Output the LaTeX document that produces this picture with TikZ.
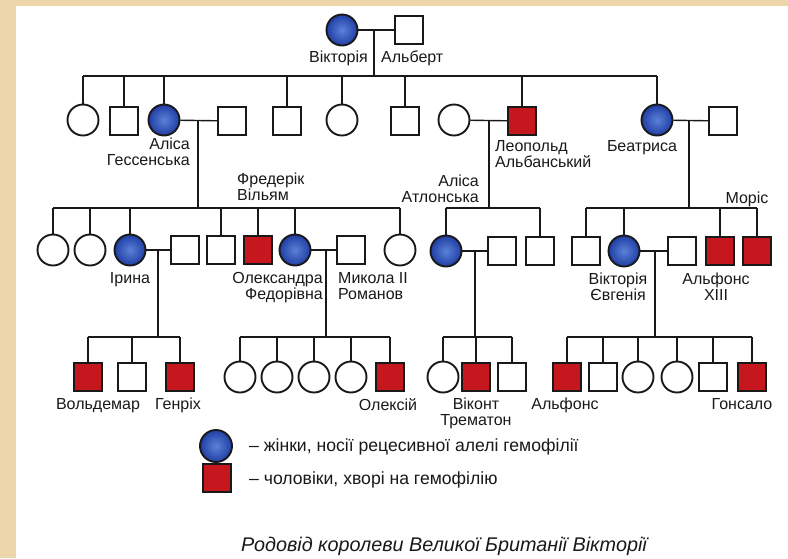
\documentclass[tikz,border=0pt]{standalone}
\usepackage{fontspec}
\setmainfont{Liberation Sans}
\definecolor{bgbeige}{RGB}{236,214,170}
\definecolor{carrierblue}{RGB}{32,62,165}
\definecolor{carrierlight}{RGB}{90,130,215}
\definecolor{sickred}{RGB}{198,22,30}
\definecolor{ink}{RGB}{25,25,25}
\begin{document}
\begin{tikzpicture}[x=1pt,y=-1pt,
  link/.style={draw=ink,line width=1.4pt},
  fem/.style={circle,draw=ink,line width=1.9pt,minimum size=31pt,inner sep=0pt,fill=white},
  mal/.style={rectangle,draw=ink,line width=1.9pt,minimum size=28pt,inner sep=0pt,fill=white},
  carrier/.style={fem,shading=radial,inner color=carrierlight,outer color=carrierblue},
  sick/.style={mal,fill=sickred},
  lbl/.style={font=\fontsize{16}{16}\selectfont,inner sep=0pt,text=ink},
  legtext/.style={font=\fontsize{17.6}{18}\selectfont,inner sep=0pt,text=ink,anchor=west}]
\useasboundingbox (0,0) rectangle (788,558);
\fill[bgbeige] (0,0) rectangle (788,558);
\fill[white] (16,6) rectangle (788,558);

% ---------- generation 1
\node[carrier] (vic) at (342,30) {};
\node[mal] (alb) at (409,30) {};
\node[lbl,anchor=north east] (lvic) at (368,51) {Вікторія};
\node[lbl,anchor=north west] (lalb) at (381,51) {Альберт};
\coordinate (m0) at (374,30);
\coordinate (sib2) at (0,76);
\draw[link] (vic) -- (alb);
\draw[link] (m0) -- (m0 |- sib2);

% ---------- generation 2
\node[fem] (c1) at (83,120) {};
\node[mal] (s1) at (124,121) {};
\node[carrier] (ali) at (164,120) {};
\node[mal] (alih) at (232,121) {};
\node[mal] (s2) at (287,121) {};
\node[fem] (c2) at (342,120) {};
\node[mal] (s3) at (405,121) {};
\node[fem] (leow) at (454,120) {};
\node[sick] (leo) at (522,121) {};
\node[carrier] (bea) at (657,120) {};
\node[mal] (beah) at (723,121) {};
\draw[link] (c1.north |- sib2) -- (bea.north |- sib2);
\foreach \n in {c1,s1,ali,s2,c2,s3,leo,bea} \draw[link] (\n.north) -- (\n.north |- sib2);

\node[lbl,anchor=north east,align=right] (lali) at (190,138) {Аліса\\Гессенська};
\node[lbl,anchor=north west,align=left] (lleo) at (495,140) {Леопольд\\Альбанський};
\node[lbl,anchor=north] (lbea) at (642,140) {Беатриса};

\coordinate (sib3) at (0,208);
\coordinate (m1) at (198,120);
\coordinate (m2) at (489,120);
\coordinate (m3) at (689,120);
\draw[link] (ali) -- (alih);
\draw[link] (leow) -- (leo);
\draw[link] (bea) -- (beah);
\foreach \m in {m1,m2,m3} \draw[link] (\m) -- (\m |- sib3);

% ---------- generation 3
\node[fem] (h1) at (53,250) {};
\node[fem] (h2) at (90,250) {};
\node[carrier] (iri) at (130,250) {};
\node[mal] (irih) at (185,250) {};
\node[mal] (h3) at (221,250) {};
\node[sick] (h4) at (258,250) {};
\node[carrier] (alx) at (295,250) {};
\node[mal] (nik) at (351,250) {};
\node[fem] (h5) at (400,250) {};
\draw[link] (h1.north |- sib3) -- (h5.north |- sib3);
\foreach \n in {h1,h2,iri,h3,h4,alx,h5} \draw[link] (\n.north) -- (\n.north |- sib3);

\node[carrier] (aa) at (446,251) {};
\node[mal] (aah) at (502,251) {};
\node[mal] (l2) at (540,251) {};
\draw[link] (aa.north |- sib3) -- (l2.north |- sib3);
\foreach \n in {aa,l2} \draw[link] (\n.north) -- (\n.north |- sib3);

\node[mal] (b1) at (586,251) {};
\node[carrier] (ve) at (624,251) {};
\node[mal] (alf) at (682,251) {};
\node[sick] (b3) at (720,251) {};
\node[sick] (b4) at (757,251) {};
\draw[link] (b1.north |- sib3) -- (b4.north |- sib3);
\foreach \n in {b1,ve,b3,b4} \draw[link] (\n.north) -- (\n.north |- sib3);

\node[lbl,anchor=north west,align=left] (lfw) at (237,173) {Фредерік\\Вільям};
\node[lbl,anchor=north east,align=right] (laa) at (479,175) {Аліса\\Атлонська};
\node[lbl,anchor=north] (lmor) at (747,192) {Моріс};
\node[lbl,anchor=north] (liri) at (130,272) {Ірина};
\node[lbl,anchor=north east,align=right] (lalx) at (323,272) {Олександра\\Федорівна};
\node[lbl,anchor=north west,align=left] (lnik) at (338,272) {Микола II\\Романов};
\node[lbl,anchor=north,align=center] (lve) at (618,273) {Вікторія\\Євгенія};
\node[lbl,anchor=north,align=center] (lalf) at (716,273) {Альфонс\\XIII};

\coordinate (sib4) at (0,337);
\coordinate (m4) at (158,250);
\coordinate (m5) at (326,250);
\coordinate (m6) at (475,251);
\coordinate (m7) at (655,251);
\draw[link] (iri) -- (irih);
\draw[link] (alx) -- (nik);
\draw[link] (aa) -- (aah);
\draw[link] (ve) -- (alf);
\foreach \m in {m4,m5,m6,m7} \draw[link] (\m) -- (\m |- sib4);

% ---------- generation 4
\node[sick] (i1) at (88,377) {};
\node[mal] (i2) at (132,377) {};
\node[sick] (i3) at (180,377) {};
\draw[link] (i1.north |- sib4) -- (i3.north |- sib4);
\foreach \n in {i1,i2,i3} \draw[link] (\n.north) -- (\n.north |- sib4);

\node[fem] (a1) at (240,377) {};
\node[fem] (a2) at (277,377) {};
\node[fem] (a3) at (314,377) {};
\node[fem] (a4) at (351,377) {};
\node[sick] (a5) at (390,377) {};
\draw[link] (a1.north |- sib4) -- (a5.north |- sib4);
\foreach \n in {a1,a2,a3,a4,a5} \draw[link] (\n.north) -- (\n.north |- sib4);

\node[fem] (t1) at (443,377) {};
\node[sick] (t2) at (476,377) {};
\node[mal] (t3) at (512,377) {};
\draw[link] (t1.north |- sib4) -- (t3.north |- sib4);
\foreach \n in {t1,t2,t3} \draw[link] (\n.north) -- (\n.north |- sib4);

\node[sick] (e1) at (567,377) {};
\node[mal] (e2) at (603,377) {};
\node[fem] (e3) at (638,377) {};
\node[fem] (e4) at (677,377) {};
\node[mal] (e5) at (713,377) {};
\node[sick] (e6) at (752,377) {};
\draw[link] (e1.north |- sib4) -- (e6.north |- sib4);
\foreach \n in {e1,e2,e3,e4,e5,e6} \draw[link] (\n.north) -- (\n.north |- sib4);

\node[lbl,anchor=north] (lvol) at (98,398) {Вольдемар};
\node[lbl,anchor=north] (lgen) at (178,398) {Генріх};
\node[lbl,anchor=north] (lolx) at (388,398) {Олексій};
\node[lbl,anchor=north,align=center] (ltre) at (476,398) {Віконт\\Трематон};
\node[lbl,anchor=north] (lalf2) at (565,398) {Альфонс};
\node[lbl,anchor=north] (lgon) at (742,398) {Гонсало};

% ---------- legend
\node[carrier,minimum size=32pt] (lgc) at (216,446) {};
\node[sick] (lgs) at (217,478) {};
\node[legtext] (lgct) at (249,447) {– жінки, носії рецесивної алелі гемофілії};
\node[legtext] (lgst) at (249,480) {– чоловіки, хворі на гемофілію};

% ---------- caption
\node[font=\fontsize{19.8}{20}\selectfont\itshape,text=ink,inner sep=0pt] (cap) at (444,546) {Родовід королеви Великої Британії Вікторії};
\end{tikzpicture}
\end{document}
